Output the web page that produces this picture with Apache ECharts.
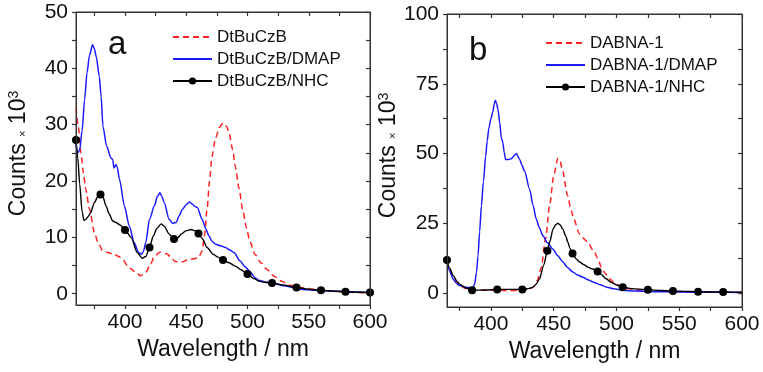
<!DOCTYPE html>
<html>
<head>
<meta charset="utf-8">
<script src="https://cdn.jsdelivr.net/npm/echarts@6/dist/echarts.min.js"></script>
<style>
html, body { margin: 0; padding: 0; background: #fff; }
#chart { width: 763px; height: 372px; }
</style>
</head>
<body>
<div id="chart"></div>
<script>
// ---- panel a : DtBuCzB ----
var redAx = [360,362,364,366,368,371,375,378,382,386,391,395,398,402,405,409,413,417,421,424,429,434,437,441,446,451,456,460,463,465,467,469,471,474,477,480,483,485,488,490,493,496,499,502,506,511,516,521,528,535,543,551,560,570,578,590,600];
var redAy = [33.0,29.5,25.0,21.5,18.5,15.0,10.9,9.0,7.6,7.3,7.0,6.6,6.1,5.0,4.4,3.7,3.2,3.8,5.3,6.7,7.4,7.1,6.6,5.7,5.6,6.0,6.2,6.4,7.6,10.5,15.0,20.0,24.4,27.7,29.5,30.3,29.7,28.5,25.5,22.6,18.8,15.0,11.8,9.3,7.0,5.5,4.3,3.2,2.2,1.5,1.1,0.9,0.6,0.45,0.35,0.2,0.1];

var blueAx = [360,361.5,363,365,367,369,371,373.5,375,376.5,379,380.5,382,385,388.5,390,391,392.5,393.5,395.5,399.5,403.5,407.5,411,413.5,415,417,420,424,426.5,428.5,430,432,436,439,442,444,447,450,452.5,455,457,459,463,466,468.5,471,474,478,482,486,489,494,498,502.5,506,509,514,519,524,530,543,555,570,585,600];
var blueAy = [26.5,25.0,25.5,29.0,34.4,39.2,42.3,44.2,43.5,42.1,38.6,35.0,29.7,26.2,24.1,23.8,22.3,22.9,22.6,20.3,15.6,12.0,9.1,7.3,7.0,7.5,9.1,13.2,15.6,17.3,17.9,17.3,16.2,13.2,12.5,12.7,13.8,15.0,15.8,16.3,15.9,15.5,15.3,13.2,11.5,10.3,9.3,8.8,8.5,8.2,7.7,7.3,5.8,4.8,3.8,2.9,2.4,2.1,2.0,1.7,1.4,0.8,0.6,0.5,0.35,0.2];

var blackAx = [360,361.5,363,365,366.5,368,370,372,375,378,380,382,384.5,387,390,393,396,400,405,410,414,417,420,423,426,429.5,432,436,440,443,446,450,454,457,460,463,467,472,476,480,485,490,495,500,505,510,515,520,530,540,550,560,570,580,590,600];
var blackAy = [27.3,24.0,19.5,14.5,13.0,13.2,13.7,14.4,16.2,17.3,17.6,17.2,15.6,14.2,12.9,12.6,12.2,11.3,10.0,7.3,6.3,6.6,8.2,10.2,11.6,12.4,12.0,10.6,9.7,9.9,10.6,11.2,11.4,11.2,10.7,9.8,8.2,7.0,6.5,6.0,5.5,4.9,4.2,3.5,2.7,2.2,2.0,1.9,1.5,1.1,0.8,0.6,0.45,0.35,0.25,0.2];
var markA = [360,380,400,420,440,460,480,500,520,540,560,580,600];

// ---- panel b : DABNA-1 ----
var redBx = [365,367,370,373,376,380,385,395,405,415,425,430,434,437,440,443.5,446.7,450,453.3,455,457,461,464,466,470.5,474,477,482.5,485,488,491,494.5,498,502.5,510,520,530,545,560,580,600];
var redBy = [11.5,8.5,5.8,3.8,2.5,1.6,1.1,1.0,1.0,0.9,0.9,1.2,2.3,4.5,9.0,19.4,31.3,42.0,48.3,47.5,44.0,35.0,29.5,26.5,21.2,19.5,18.2,14.6,12.5,9.2,7.0,5.1,3.8,2.7,1.5,1.0,0.8,0.5,0.4,0.3,0.2];

var blueBx = [365,367,369.8,372,375,380,384.4,386,387,388.5,389.7,391,392.4,394,395.8,397,398.4,400,401.6,402.5,403.5,404.5,405.6,407,408.3,409.6,410.5,411.7,414,416.2,418,420.2,422.9,424.5,426.8,430.8,433.5,436.1,438.5,441.4,445,449.3,453,457.3,461,465.2,469,473.2,477,481.7,487,492.3,498,505,515,530,550,575,600];
var blueBy = [11.0,8.0,5.1,3.7,2.7,2.1,1.8,2.2,3.2,7.5,13.3,22.0,31.2,40.0,49.0,54.5,59.2,62.5,65.1,67.5,69.1,68.0,65.8,61.0,55.6,53.8,50.5,47.9,47.9,48.1,49.0,50.0,47.9,46.0,43.7,37.2,31.5,26.5,23.5,20.5,18.0,15.8,13.5,11.1,9.2,7.5,6.5,5.7,4.8,3.9,3.0,2.1,1.5,1.0,0.7,0.5,0.35,0.3,0.2];

var blackBx = [365,367,370,373,375,380,385,395,405,415,425,430,433.5,436,438.7,442,445,447,449.4,451.5,453.3,455,457.3,459.5,461.3,463,465,468,470.6,474,477.2,481,485,488,491.8,496,500,505,512,525,535,545,555,565,575,585,600];
var blackBy = [11.8,9.0,6.2,4.2,3.2,1.8,1.0,1.1,1.3,1.3,1.3,1.6,2.1,3.2,5.1,10.0,15.2,18.5,22.9,24.5,25.0,24.5,22.9,20.5,18.2,16.0,14.2,12.2,11.1,10.2,9.3,8.6,7.7,6.6,5.1,3.8,2.9,2.1,1.6,1.2,0.9,0.7,0.6,0.5,0.4,0.35,0.3];
var markB = [365,385,405,425,445,465,485,505,525,545,565,585];

// ---- ticks ----
var xLabelsA = [400,450,500,550,600];
var xTicksA = [375,400,425,450,475,500,525,550,575,600];
var yLabelsA = [0,10,20,30,40,50];
var yTicksA = [0,5,10,15,20,25,30,35,40,45,50];
var xLabelsB = [400,450,500,550,600];
var xTicksB = [375,400,425,450,475,500,525,550,575,600];
var yLabelsB = [0,25,50,75,100];
var yTicksB = [0,12.5,25,37.5,50,62.5,75,87.5,100];

var FONT = 'Liberation Sans, Arial, sans-serif';
var AXIS_COLOR = '#333';
// 两个面板的绘图区（像素）
var BOX_A = { left: 76, top: 12, width: 294, height: 293 };
var BOX_B = { left: 447, top: 14, width: 295, height: 293 };

function pairs(xs, ys) {
	var out = [];
	for (var i = 0; i < xs.length; i++) {
		out.push([xs[i], ys[i]]);
	}
	return out;
}

function axisLine() {
	return { show: true, onZero: false, lineStyle: { color: AXIS_COLOR, width: 1 } };
}

function ticks(values, inside) {
	return { show: true, inside: inside, length: 4, customValues: values.slice(), lineStyle: { color: AXIS_COLOR, width: 1.2 } };
}

/**
 * 一个面板的四条边框轴（下、上、左、右）
 */
function boxAxes(g, xmin, xmax, ymin, ymax, xLabels, xTicks, yLabels, yTicks, yNameGap) {
	var xs = [{
		type: 'value', gridIndex: g, position: 'bottom', min: xmin, max: xmax,
		axisLine: axisLine(),
		axisTick: ticks(xTicks, false),
		axisLabel: { customValues: xLabels.slice(), fontSize: 21, fontFamily: FONT, color: '#111', margin: 7 },
		splitLine: { show: false },
		name: 'Wavelength / nm', nameLocation: 'middle', nameGap: 32,
		nameTextStyle: { fontSize: 23, fontFamily: FONT, color: '#111' }
	}, {
		type: 'value', gridIndex: g, position: 'top', min: xmin, max: xmax,
		axisLine: axisLine(),
		axisTick: ticks(xTicks, true),
		axisLabel: { show: false },
		splitLine: { show: false }
	}];
	var ys = [{
		type: 'value', gridIndex: g, position: 'left', min: ymin, max: ymax,
		axisLine: axisLine(),
		axisTick: ticks(yTicks, false),
		axisLabel: { customValues: yLabels.slice(), fontSize: 21, fontFamily: FONT, color: '#111', margin: 8 },
		splitLine: { show: false },
		name: '{t|Counts }{x|×}{t| 10}{s|3}', nameLocation: 'middle', nameGap: yNameGap,
		nameTextStyle: {
			fontSize: 23, fontFamily: FONT, color: '#111', padding: [0, 0, 0, 10],
			rich: {
				t: { fontSize: 23, fontFamily: FONT, color: '#111' },
				x: { fontSize: 11, fontFamily: FONT, color: '#111', verticalAlign: 'bottom', padding: [0, 0, 2, 0] },
				s: { fontSize: 14, fontFamily: FONT, color: '#111', verticalAlign: 'top' }
			}
		}
	}, {
		type: 'value', gridIndex: g, position: 'right', min: ymin, max: ymax,
		axisLine: axisLine(),
		axisTick: ticks(yTicks, true),
		axisLabel: { show: false },
		splitLine: { show: false }
	}];
	return { x: xs, y: ys };
}

var axA = boxAxes(0, 360, 600, -2, 50, xLabelsA, xTicksA, yLabelsA, yTicksA, 46);
var axB = boxAxes(1, 365, 600, -5, 100, xLabelsB, xTicksB, yLabelsB, yTicksB, 40);

function lineSeries(name, data, xi, yi, color, dashed) {
	return {
		name: name, type: 'line', xAxisIndex: xi, yAxisIndex: yi,
		data: data, smooth: 0.25, smoothMonotone: 'x',
		symbol: 'none', clip: true,
		lineStyle: { color: color, width: 1.5, type: dashed ? [6, 4] : 'solid' },
		itemStyle: { color: color },
		animation: false
	};
}

function markedSeries(name, data, xi, yi, marks) {
	return {
		name: name, type: 'line', xAxisIndex: xi, yAxisIndex: yi,
		data: data, smooth: 0.25, smoothMonotone: 'x',
		symbol: 'circle', showAllSymbol: true,
		symbolSize: function (v) {
			return marks.indexOf(v[0]) >= 0 ? 8 : 0;
		},
		clip: false,
		lineStyle: { color: '#000', width: 1.4 },
		itemStyle: { color: '#000' },
		animation: false
	};
}

// 图例：红、蓝两条只显示线段，不显示圆点
function legendAt(left, top, names) {
	return {
		orient: 'vertical', left: left, top: top, padding: 0,
		itemWidth: 39, itemHeight: 9, itemGap: 2,
		textStyle: { fontSize: 17, fontFamily: FONT, color: '#111', lineHeight: 20 },
		data: [
			{ name: names[0], itemStyle: { opacity: 0 } },
			{ name: names[1], itemStyle: { opacity: 0 } },
			{ name: names[2] }
		]
	};
}

// 边框（与 grid 同位置）
function frame(box) {
	return {
		type: 'rect', z: 100, silent: true,
		shape: { x: box.left + 0.5, y: box.top + 0.5, width: box.width, height: box.height },
		style: { stroke: AXIS_COLOR, lineWidth: 1, fill: 'none' }
	};
}

function gridOf(box) {
	return { left: box.left, top: box.top, width: box.width, height: box.height, show: true, borderColor: AXIS_COLOR, borderWidth: 1 };
}

var option = {
	animation: false,
	backgroundColor: '#fff',
	grid: [gridOf(BOX_A), gridOf(BOX_B)],
	xAxis: axA.x.concat(axB.x),
	yAxis: axA.y.concat(axB.y),
	legend: [
		legendAt(172, 27, ['DtBuCzB', 'DtBuCzB/DMAP', 'DtBuCzB/NHC']),
		legendAt(545, 33, ['DABNA-1', 'DABNA-1/DMAP', 'DABNA-1/NHC'])
	],
	graphic: [
		frame(BOX_A),
		frame(BOX_B),
		{ type: 'text', left: 108, top: 28, style: { text: 'a', font: '33px ' + FONT, fill: '#111' } },
		{ type: 'text', left: 469, top: 34, style: { text: 'b', font: '33px ' + FONT, fill: '#111' } }
	],
	series: [
		lineSeries('DtBuCzB', pairs(redAx, redAy), 0, 0, '#f22', true),
		lineSeries('DtBuCzB/DMAP', pairs(blueAx, blueAy), 0, 0, '#1a1aff', false),
		markedSeries('DtBuCzB/NHC', pairs(blackAx, blackAy), 0, 0, markA),
		lineSeries('DABNA-1', pairs(redBx, redBy), 2, 2, '#f22', true),
		lineSeries('DABNA-1/DMAP', pairs(blueBx, blueBy), 2, 2, '#1a1aff', false),
		markedSeries('DABNA-1/NHC', pairs(blackBx, blackBy), 2, 2, markB)
	]
};

var myChart = echarts.init(document.getElementById('chart'));
myChart.setOption(option);
</script>
</body>
</html>
